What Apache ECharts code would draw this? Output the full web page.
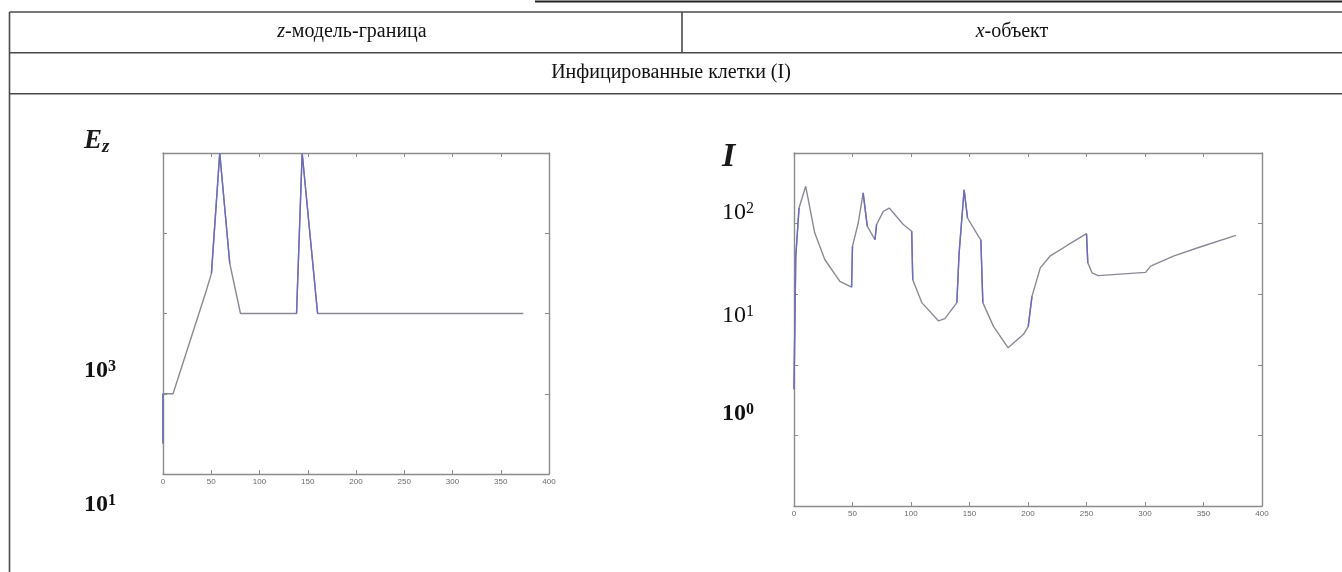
<!DOCTYPE html>
<html>
<head>
<meta charset="utf-8">
<script src="https://cdn.jsdelivr.net/npm/echarts@6/dist/echarts.min.js"></script>
<style>
html,body{margin:0;padding:0;background:#ffffff;}
#c{width:1342px;height:572px;}
</style>
</head>
<body>
<div id="c"></div>
<script>
// ---- texts ----
const headerLeftRest = '-модель-граница';
const headerLeftVar = 'z';
const headerRightRest = '-объект';
const headerRightVar = 'x';
const rowTitle = 'Инфицированные клетки (I)';

// ---- x axis ticks (both panels) ----
const xMin = 0, xMax = 400, xStep = 50;

// ---- left panel: E_z (log scale) ----
const leftYMin = 10, leftYMax = 100000;
const leftX = [0, 0, 10.4, 45, 50.2, 58.8, 69.2, 80.3, 138.4, 144.2, 160.2, 373.4];
const leftE = [24, 100, 100, 1950, 3160, 100000, 4200, 1000, 1000, 100000, 1000, 1000];

// ---- right panel: I (log scale) ----
const rightYMin = 0.01, rightYMax = 1000;
const rightX = [0, 1.5, 4.3, 10, 17.7, 26.3, 39.2, 49.2, 50, 54.9, 59.1, 62.6, 69.2, 70.6, 76.3, 81.4, 93.4, 100.6, 101.5, 109.2, 123.4, 129, 139.2, 141.1, 145.4, 148.3, 157.7, 159.7, 161.4, 170.5, 183, 196.2, 200.2, 203.4, 210.5, 219.1, 233.4, 250, 251.1, 254.8, 260, 300.5, 304.8, 324.8, 347.7, 377.7];
const rightI = [0.45, 34, 166, 338, 74, 31, 15.2, 12.6, 48, 102, 272, 92, 59, 97, 149, 166, 97, 78, 16, 7.6, 4.2, 4.5, 7.6, 38, 302, 120, 66, 59, 7.6, 3.5, 1.74, 2.7, 3.5, 9.3, 23.6, 35, 49, 72, 28, 20, 18.3, 20.4, 25, 35, 47, 68];

const leftData = leftX.map((x, i) => [x, leftE[i]]);
const rightData = rightX.map((x, i) => [x, rightI[i]]);

// steep segments get the bluish tint seen in the scan
function steepPart(data, thr) {
  const out = [];
  let lastIdx = -2;
  for (let i = 0; i < data.length - 1; i++) {
    const dx = Math.abs(data[i + 1][0] - data[i][0]);
    const dl = Math.abs(Math.log10(data[i + 1][1]) - Math.log10(data[i][1]));
    const steep = dx === 0 ? dl > 0 : dl / dx > thr;
    if (steep) {
      if (lastIdx !== i) { if (out.length) out.push(null); out.push(data[i]); }
      out.push(data[i + 1]);
      lastIdx = i + 1;
    }
  }
  return out;
}

const frameColor = '#8c8c8c';
const grayLine = '#8a8a96';
const blueLine = '#6c6cba';
const tableColor = '#4a4a4a';
const serif = '"Liberation Serif", "DejaVu Serif", serif';

function xAx(gridIndex, position, showLabel) {
  return {
    type: 'value', gridIndex, position, min: xMin, max: xMax, interval: xStep,
    axisLine: {show: true, onZero: false, lineStyle: {color: frameColor, width: 1.4}},
    axisTick: {show: true, inside: true, length: 4, lineStyle: {color: frameColor}},
    axisLabel: {show: showLabel, fontSize: 8, color: '#6a6a6a', margin: 4, fontFamily: 'Arial, sans-serif'},
    splitLine: {show: false}
  };
}
function yAx(gridIndex, position, min, max) {
  return {
    type: 'log', logBase: 10, gridIndex, position, min, max,
    axisLine: {show: true, onZero: false, lineStyle: {color: frameColor, width: 1.4}},
    axisTick: {show: true, inside: true, length: 4, lineStyle: {color: frameColor}},
    axisLabel: {show: false},
    splitLine: {show: false}
  };
}

function hline(x1, x2, y, w, c) {
  return {type: 'line', shape: {x1, y1: y, x2, y2: y}, style: {stroke: c || tableColor, lineWidth: w || 1.6}, silent: true};
}
function vline(x, y1, y2, w, c) {
  return {type: 'line', shape: {x1: x, y1, x2: x, y2}, style: {stroke: c || tableColor, lineWidth: w || 1.6}, silent: true};
}
function powLabel(x, y, exp, bold, size) {
  return {
    type: 'text', left: x, top: y, silent: true,
    style: {
      text: '{b|10}{e|' + exp + '}',
      rich: {
        b: {fontFamily: serif, fontSize: size, fontWeight: bold ? 'bold' : 'normal', fill: '#111', lineHeight: size},
        e: {fontFamily: serif, fontSize: Math.round(size * 0.65), fontWeight: bold ? 'bold' : 'normal', fill: '#111', verticalAlign: 'top', lineHeight: size}
      }
    }
  };
}

const chart = echarts.init(document.getElementById('c'), null, {renderer: 'canvas'});
chart.setOption({
  animation: false,
  backgroundColor: '#ffffff',
  grid: [
    {left: 163, top: 153, width: 386, height: 321},
    {left: 794, top: 153, width: 468, height: 353}
  ],
  xAxis: [xAx(0, 'bottom', true), xAx(0, 'top', false), xAx(1, 'bottom', true), xAx(1, 'top', false)],
  yAxis: [
    yAx(0, 'left', leftYMin, leftYMax), yAx(0, 'right', leftYMin, leftYMax),
    yAx(1, 'left', rightYMin, rightYMax), yAx(1, 'right', rightYMin, rightYMax)
  ],
  series: [
    {type: 'line', xAxisIndex: 0, yAxisIndex: 0, data: leftData, showSymbol: false, clip: true,
      lineStyle: {color: grayLine, width: 1.4}},
    {type: 'line', xAxisIndex: 0, yAxisIndex: 0, data: steepPart(leftData, 0.06), showSymbol: false, clip: true,
      connectNulls: false, lineStyle: {color: blueLine, width: 1.4}},
    {type: 'line', xAxisIndex: 2, yAxisIndex: 2, data: rightData, showSymbol: false, clip: true,
      lineStyle: {color: grayLine, width: 1.4}},
    {type: 'line', xAxisIndex: 2, yAxisIndex: 2, data: steepPart(rightData, 0.12), showSymbol: false, clip: true,
      connectNulls: false, lineStyle: {color: blueLine, width: 1.4}}
  ],
  graphic: [
    hline(535, 1342, 1.5, 2, '#222'),
    hline(9.5, 1342, 12),
    hline(9.5, 1342, 52.7),
    hline(9.5, 1342, 93.7),
    vline(9.5, 12, 572),
    vline(682, 12, 52.7),
    {type: 'text', x: 352, y: 32, silent: true,
      style: {text: '{i|' + headerLeftVar + '}{r|' + headerLeftRest + '}', align: 'center', verticalAlign: 'middle',
        rich: {i: {fontFamily: serif, fontStyle: 'italic', fontSize: 20, fill: '#111'}, r: {fontFamily: serif, fontSize: 20, fill: '#111'}}}},
    {type: 'text', x: 1012, y: 32, silent: true,
      style: {text: '{i|' + headerRightVar + '}{r|' + headerRightRest + '}', align: 'center', verticalAlign: 'middle',
        rich: {i: {fontFamily: serif, fontStyle: 'italic', fontSize: 20, fill: '#111'}, r: {fontFamily: serif, fontSize: 20, fill: '#111'}}}},
    {type: 'text', x: 671, y: 73, silent: true,
      style: {text: rowTitle, align: 'center', verticalAlign: 'middle', font: '20px ' + serif, fill: '#111'}},
    {type: 'text', left: 84, top: 128, silent: true,
      style: {text: '{E|E}{z|z}',
        rich: {E: {fontFamily: serif, fontStyle: 'italic', fontWeight: 'bold', fontSize: 27, fill: '#1a1a1a', lineHeight: 30},
               z: {fontFamily: serif, fontStyle: 'italic', fontWeight: 'bold', fontSize: 19, fill: '#1a1a1a', verticalAlign: 'bottom', lineHeight: 30}}}},
    powLabel(84, 359, '3', true, 24),
    powLabel(84, 493, '1', true, 24),
    {type: 'text', left: 722, top: 140, silent: true,
      style: {text: 'I', font: 'italic bold 34px ' + serif, fill: '#1a1a1a'}},
    powLabel(722, 201, '2', false, 24),
    powLabel(722, 304, '1', false, 24),
    powLabel(722, 402, '0', true, 24)
  ]
});
</script>
</body>
</html>
